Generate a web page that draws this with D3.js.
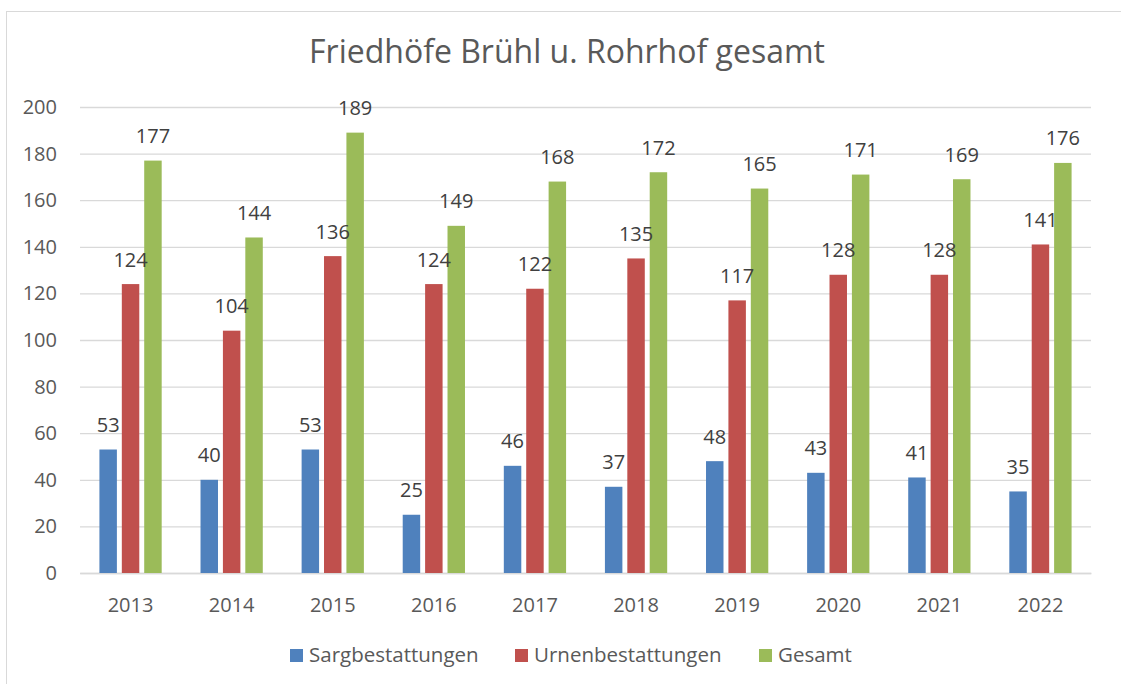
<!DOCTYPE html>
<html><head><meta charset="utf-8">
<script src="https://cdn.jsdelivr.net/npm/d3@7"></script>
<style>body{margin:0;background:#fff;} svg{display:block;font-family:"Open Sans",sans-serif;}</style>
</head><body><svg id="c" width="1121" height="684"></svg>
<script>
const title = "Friedhöfe Brühl u. Rohrhof gesamt";
const years = ["2013","2014","2015","2016","2017","2018","2019","2020","2021","2022"];
const seriesNames = ["Sargbestattungen","Urnenbestattungen","Gesamt"];
const sarg = [53,40,53,25,46,37,48,43,41,35];
const urnen = [124,104,136,124,122,135,117,128,128,141];
const gesamt = [177,144,189,149,168,172,165,171,169,176];
const colors = ["#4f81bd","#c0504d","#9bbb59"];
const yTicks = [0,20,40,60,80,100,120,140,160,180,200];

const svg = d3.select("#c");
svg.append("rect").attr("x",6.5).attr("y",11.5).attr("width",1130).attr("height",700)
  .attr("fill","#fff").attr("stroke","#d9d9d9").attr("stroke-width",1);

const pL=80, pR=1091, pT=107, pB=573;
const x = d3.scaleBand().domain(years).range([pL,pR]).paddingInner(0).paddingOuter(0);
const y = d3.scaleLinear().domain([0,200]).range([pB,pT]);
const x1 = d3.scaleBand().domain(seriesNames).range([0,x.bandwidth()]).paddingInner(0.22).paddingOuter(0.867);

svg.append("text").attr("x",567).attr("y",63).attr("text-anchor","middle")
  .attr("font-size",32).attr("fill","#595959").text(title);

const yAxis = svg.append("g").attr("transform",`translate(${pL},0)`)
  .call(d3.axisLeft(y).tickValues(yTicks).tickSize(-(pR-pL)).tickPadding(23));
yAxis.select(".domain").remove();
yAxis.selectAll(".tick line").attr("stroke","#d9d9d9").attr("stroke-width",1.3);
yAxis.selectAll(".tick text").attr("font-size",20).attr("fill","#595959").attr("font-family","Open Sans");

const xAxis = svg.append("g").attr("transform",`translate(0,${pB})`)
  .call(d3.axisBottom(x).tickSize(0).tickPadding(25));
xAxis.select(".domain").attr("stroke","#d9d9d9").attr("stroke-width",1.3);
xAxis.selectAll(".tick text").attr("font-size",20).attr("fill","#595959").attr("font-family","Open Sans");

const data = [sarg,urnen,gesamt];
const barsG = svg.append("g");
const labelsG = svg.append("g");
data.forEach((vals,si)=>{
  barsG.append("g").selectAll("rect").data(vals).join("rect")
    .attr("x",(d,i)=>x(years[i])+x1(seriesNames[si]))
    .attr("width",x1.bandwidth())
    .attr("y",d=>y(d)).attr("height",d=>pB-y(d))
    .attr("fill",colors[si]);
  labelsG.append("g").selectAll("text").data(vals).join("text")
    .attr("x",(d,i)=>x(years[i])+x1(seriesNames[si])+x1.bandwidth()/2)
    .attr("y",d=>y(d)-17.5)
    .attr("text-anchor","middle").attr("font-size",20).attr("fill","#404040")
    .text(d=>d);
});

const legX = [290,515,759];
const leg = svg.append("g");
seriesNames.forEach((n,i)=>{
  leg.append("rect").attr("x",legX[i]).attr("y",649).attr("width",13).attr("height",13).attr("fill",colors[i]);
  leg.append("text").attr("x",legX[i]+19).attr("y",662).attr("font-size",20.5).attr("fill","#595959").text(n);
});
</script></body></html>
